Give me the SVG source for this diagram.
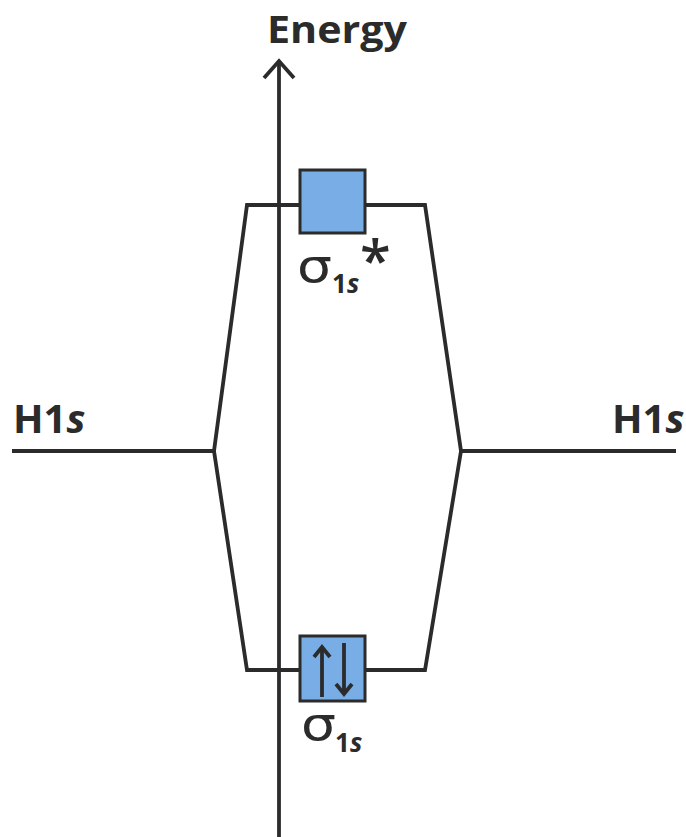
<svg xmlns="http://www.w3.org/2000/svg" width="686" height="837" viewBox="0 0 686 837">
<style>
.ln{fill:none;stroke:#2b2b2b;stroke-width:3.8;stroke-linejoin:miter}
.box{fill:#78aee5;stroke:#2b2b2b;stroke-width:3}
.t{font-family:"Open Sans","Liberation Sans",sans-serif;font-weight:bold;fill:#2b2b2b}
.sig{font-family:"DejaVu Sans","Open Sans",sans-serif;fill:#2b2b2b}
</style>
<g id="connectors">
<polyline class="ln" points="12,451 214,451 247,205 300,205"/>
<polyline class="ln" points="214,451 247,670 300,670"/>
<polyline class="ln" points="676,451 461,451 425,205 366,205"/>
<polyline class="ln" points="461,451 425,670 366,670"/>
</g>
<g id="axis">
<line class="ln" x1="279" y1="837" x2="279" y2="62"/>
<polyline class="ln" points="264,78 279,61 294,78" stroke-width="5"/>
<text class="t" x="267" y="43" font-size="38" textLength="140" lengthAdjust="spacingAndGlyphs">Energy</text>
</g>
<g id="sigma-star">
<rect class="box" x="300" y="170" width="65" height="63"/>
<text class="sig" x="297" y="282" font-size="46" transform="translate(297,0) scale(1.2,1) translate(-297,0)">σ</text>
<text class="t" x="332" y="293" font-size="26">1<tspan font-style="italic">s</tspan></text>
<text x="360" y="280" font-size="56" font-weight="600" font-family="Open Sans, Liberation Sans, sans-serif" fill="#2b2b2b">*</text>
</g>
<g id="sigma">
<rect class="box" x="300" y="636" width="65" height="65"/>
<polyline class="ln" points="322,697 322,648" stroke-width="3"/>
<polyline class="ln" points="314,657 322,647 330,657" stroke-width="3"/>
<polyline class="ln" points="344,643 344,693" stroke-width="3"/>
<polyline class="ln" points="336,684 344,694 352,684" stroke-width="3"/>
<text class="sig" x="301" y="740" font-size="46" transform="translate(301,0) scale(1.2,1) translate(-301,0)">σ</text>
<text class="t" x="335" y="752" font-size="26">1<tspan font-style="italic">s</tspan></text>
</g>
<g id="h1s-left">
<text class="t" x="13" y="433" font-size="40">H1<tspan font-style="italic">s</tspan></text>
</g>
<g id="h1s-right">
<text class="t" x="612" y="433" font-size="40">H1<tspan font-style="italic">s</tspan></text>
</g>
</svg>
